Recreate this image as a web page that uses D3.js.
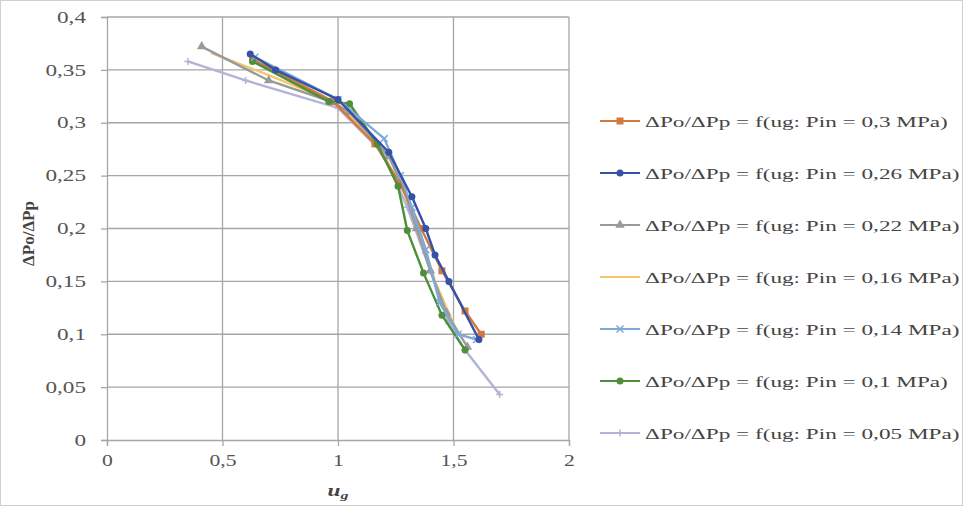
<!DOCTYPE html>
<html>
<head>
<meta charset="utf-8">
<script src="https://cdn.jsdelivr.net/npm/d3@7"></script>
<style>
  html, body { margin: 0; padding: 0; background: #fff; }
  svg { display: block; }
  svg text { font-family: "Times New Roman", "Liberation Serif", "DejaVu Serif", serif !important; }
</style>
</head>
<body>
<svg id="chart" width="963" height="506"></svg>
<script>
// Axis ticks
const xTicks = [0, 0.5, 1, 1.5, 2];
const yTicks = [0, 0.05, 0.1, 0.15, 0.2, 0.25, 0.3, 0.35, 0.4];

// Series labels
const seriesNames = [
  "ΔPo/ΔPp = f(ug: Pin = 0,3 MPa)",
  "ΔPo/ΔPp = f(ug: Pin = 0,26 MPa)",
  "ΔPo/ΔPp = f(ug: Pin = 0,22 MPa)",
  "ΔPo/ΔPp = f(ug: Pin = 0,16 MPa)",
  "ΔPo/ΔPp = f(ug: Pin = 0,14 MPa)",
  "ΔPo/ΔPp = f(ug: Pin = 0,1 MPa)",
  "ΔPo/ΔPp = f(ug: Pin = 0,05 MPa)"
];

// Measured points [ug, ΔPo/ΔPp] per inlet pressure
const p030 = [[0.63,0.360],[0.98,0.320],[1.16,0.280],[1.27,0.242],[1.36,0.200],[1.45,0.160],[1.55,0.122],[1.62,0.100]];
const p026 = [[0.62,0.365],[0.73,0.350],[1.00,0.322],[1.22,0.272],[1.32,0.230],[1.38,0.200],[1.42,0.175],[1.48,0.150],[1.61,0.095]];
const p022 = [[0.41,0.372],[0.70,0.340],[0.97,0.320],[1.05,0.310],[1.22,0.268],[1.28,0.240],[1.34,0.200],[1.40,0.160],[1.47,0.120],[1.56,0.088]];
const p016 = [[0.45,0.366],[0.70,0.345],[1.00,0.318],[1.15,0.285],[1.27,0.242],[1.35,0.200],[1.42,0.150],[1.52,0.100]];
const p014 = [[0.64,0.362],[1.00,0.322],[1.20,0.285],[1.27,0.250],[1.32,0.220],[1.38,0.180],[1.44,0.130],[1.52,0.100],[1.60,0.095]];
const p010 = [[0.63,0.358],[0.96,0.320],[1.05,0.318],[1.17,0.280],[1.26,0.240],[1.30,0.198],[1.37,0.158],[1.45,0.118],[1.55,0.085]];
const p005 = [[0.35,0.358],[0.60,0.340],[1.00,0.314],[1.20,0.270],[1.30,0.220],[1.40,0.160],[1.48,0.110],[1.55,0.085],[1.70,0.043]];

const seriesData = [p030, p026, p022, p016, p014, p010, p005];
const colors = ["#d27a3e", "#3352a8", "#9a9a9a", "#f3c76a", "#7fa9d8", "#4d8f3a", "#b3b3d6"];
const markers = ["square", "circle", "triangle", "none", "cross", "circle", "plus"];

const svg = d3.select("#chart");
const W = 963, H = 506;
const FONT = "Times New Roman, Liberation Serif, DejaVu Serif, serif";
const STRETCH = 1.45; // wide lettering used throughout the figure

// outer frame
svg.append("rect").attr("x", 0.5).attr("y", 0.5).attr("width", W - 1).attr("height", H - 1)
  .attr("fill", "#fff").attr("stroke", "#d0d0d0");

const plot = { left: 107, right: 569, top: 17, bottom: 440 };
const x = d3.scaleLinear().domain([0, 2]).range([plot.left, plot.right]);
const y = d3.scaleLinear().domain([0, 0.4]).range([plot.bottom, plot.top]);
const fmt = d => String(d).replace(".", ",");

// grid
const g = svg.append("g");
g.selectAll(".hg").data(yTicks.filter(d => d > 0)).join("line")
  .attr("x1", plot.left).attr("x2", plot.right)
  .attr("y1", d => y(d)).attr("y2", d => y(d))
  .attr("stroke", "#a6a6a6").attr("stroke-width", 1.3);
g.selectAll(".vg").data(xTicks.filter(d => d > 0)).join("line")
  .attr("y1", plot.top).attr("y2", plot.bottom)
  .attr("x1", d => x(d)).attr("x2", d => x(d))
  .attr("stroke", "#a6a6a6").attr("stroke-width", 1.3);

// axes
const xAxis = d3.axisBottom(x).tickValues(xTicks).tickFormat(fmt).tickSize(6).tickPadding(9);
const yAxis = d3.axisLeft(y).tickValues(yTicks).tickFormat(fmt).tickSize(6).tickPadding(10);
const gx = svg.append("g").attr("transform", `translate(0,${plot.bottom})`).call(xAxis);
const gy = svg.append("g").attr("transform", `translate(${plot.left},0)`).call(yAxis);
[gx, gy].forEach(a => {
  a.attr("font-family", FONT);
  a.select(".domain").attr("stroke", "#a6a6a6").attr("stroke-width", 1.3);
  a.selectAll(".tick line").attr("stroke", "#a6a6a6").attr("stroke-width", 1.3);
  a.selectAll(".tick text").attr("fill", "#555").attr("font-size", 16).attr("font-family", FONT);
});
gy.selectAll(".tick text").attr("x", 0).attr("transform", `translate(-21,0) scale(${STRETCH},1)`);
gx.selectAll(".tick text").attr("transform", `scale(${STRETCH - 0.1},1)`);

// axis titles
svg.append("text").attr("transform", `translate(34,${(plot.top + plot.bottom) / 2 + 5}) rotate(-90)`)
  .attr("text-anchor", "middle").attr("font-size", 17).attr("font-weight", "bold")
  .attr("font-family", FONT).attr("fill", "#444").text("ΔPo/ΔPp");
const xt = svg.append("text").attr("transform", `translate(${x(1)},496) scale(${STRETCH},1)`)
  .attr("text-anchor", "middle")
  .attr("font-family", FONT).attr("font-size", 16).attr("font-weight", "bold")
  .attr("font-style", "italic").attr("fill", "#444");
xt.append("tspan").text("u");
xt.append("tspan").attr("font-size", 11).attr("dy", 3).text("g");

// marker drawing
function drawMarker(sel, type, color, size) {
  const s = size;
  if (type === "square") {
    sel.append("rect").attr("x", -s / 2).attr("y", -s / 2).attr("width", s).attr("height", s).attr("fill", color);
  } else if (type === "circle") {
    sel.append("circle").attr("r", s / 2).attr("fill", color);
  } else if (type === "triangle") {
    sel.append("path").attr("d", d3.symbol(d3.symbolTriangle, s * s * 0.8)()).attr("fill", color);
  } else if (type === "cross") {
    sel.append("path").attr("d", `M${-s/2},${-s/2}L${s/2},${s/2}M${-s/2},${s/2}L${s/2},${-s/2}`)
      .attr("stroke", color).attr("stroke-width", 1.5);
  } else if (type === "plus") {
    sel.append("path").attr("d", `M${-s/2},0L${s/2},0M0,${-s/2}L0,${s/2}`)
      .attr("stroke", color).attr("stroke-width", 1.5);
  }
}

const line = d3.line().x(d => x(d[0])).y(d => y(d[1]));
const drawOrder = [6, 3, 2, 0, 5, 4, 1];
drawOrder.forEach(i => {
  const sg = svg.append("g");
  sg.append("path").datum(seriesData[i]).attr("d", line)
    .attr("fill", "none").attr("stroke", colors[i]).attr("stroke-width", 2.4);
  seriesData[i].forEach(p => {
    const m = sg.append("g").attr("transform", `translate(${x(p[0])},${y(p[1])})`);
    drawMarker(m, markers[i], colors[i], 7);
  });
});

// legend
const lg = svg.append("g");
const rows = [];
seriesNames.forEach((name, i) => {
  const cy = 121 + i * 52;
  const row = lg.append("g").attr("transform", `translate(0,${cy})`);
  row.append("line").attr("x1", 600).attr("x2", 640).attr("y1", 0).attr("y2", 0)
    .attr("stroke", colors[i]).attr("stroke-width", 2);
  const m = row.append("g").attr("transform", "translate(620,0)");
  drawMarker(m, markers[i], colors[i], 7);
  rows.push(row.append("text").attr("x", 0).attr("y", 0).attr("font-size", 15)
    .attr("font-family", FONT).attr("fill", "#444").text(name));
});
// the first entry spans about 303 px; stretch every entry by the same factor
const s = 303 / rows[0].node().getComputedTextLength();
rows.forEach(t => t.attr("transform", `translate(645,6) scale(${s},1)`));
</script>
</body>
</html>
